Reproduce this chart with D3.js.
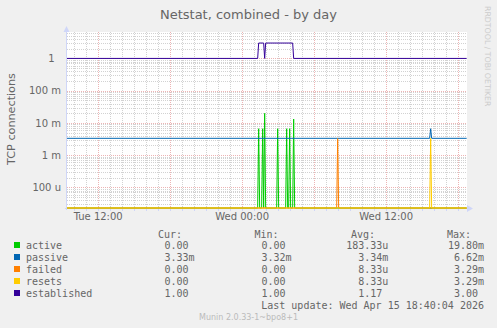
<!DOCTYPE html>
<html>
<head>
<meta charset="utf-8">
<script src="https://cdn.jsdelivr.net/npm/d3@7"></script>
<style>
  html, body { margin: 0; padding: 0; background: #F0F0F0; }
  svg text { white-space: pre; }
</style>
</head>
<body>
<svg id="chart" width="497" height="328"></svg>
<script>
// chart data (5 minute samples, zeros shown where the series sits on the floor)
var title = "Netstat, combined - by day";
var yLabel = "TCP connections";
var timeStart = "2026-04-14 09:26:40";
var timeEnd = "2026-04-15 18:46:40";
var yMin = 2.3e-5;
var yMax = 6.6;
var yTicks = [1e-4, 1e-3, 1e-2, 1e-1, 1];
var yTickLabels = ["100 u", "1 m", "10 m", "100 m", "1\u2007"];
var xTickFormat = "%a %H:%M";

var seriesNames = ["active", "passive", "failed", "resets", "established"];
var seriesColors = ["#00CC00", "#0066B3", "#FF8000", "#FFCC00", "#330099"];

var active = [
  ["2026-04-14 09:25", 0], ["2026-04-15 01:20", 0], ["2026-04-15 01:25", 6.6e-3],
  ["2026-04-15 01:30", 0], ["2026-04-15 01:40", 0], ["2026-04-15 01:45", 6.6e-3],
  ["2026-04-15 01:50", 0], ["2026-04-15 01:55", 19.8e-3], ["2026-04-15 02:00", 0],
  ["2026-04-15 02:55", 0], ["2026-04-15 03:00", 6.6e-3], ["2026-04-15 03:05", 0],
  ["2026-04-15 03:40", 0], ["2026-04-15 03:45", 6.6e-3], ["2026-04-15 03:50", 0],
  ["2026-04-15 03:55", 0], ["2026-04-15 04:00", 6.6e-3], ["2026-04-15 04:05", 0],
  ["2026-04-15 04:15", 0], ["2026-04-15 04:20", 13.2e-3], ["2026-04-15 04:25", 0],
  ["2026-04-15 18:45", 0]
];
var passive = [
  ["2026-04-14 09:25", 3.33e-3], ["2026-04-15 15:40", 3.33e-3], ["2026-04-15 15:45", 6.62e-3],
  ["2026-04-15 15:50", 3.33e-3], ["2026-04-15 18:45", 3.33e-3]
];
var failed = [
  ["2026-04-14 09:25", 0], ["2026-04-15 07:55", 0], ["2026-04-15 08:00", 3.29e-3],
  ["2026-04-15 08:05", 0], ["2026-04-15 18:45", 0]
];
var resets = [
  ["2026-04-14 09:25", 0], ["2026-04-15 15:40", 0], ["2026-04-15 15:45", 3.29e-3],
  ["2026-04-15 15:50", 0], ["2026-04-15 18:45", 0]
];
var established = [
  ["2026-04-14 09:25", 1], ["2026-04-15 01:20", 1], ["2026-04-15 01:25", 3],
  ["2026-04-15 01:50", 3], ["2026-04-15 01:55", 1], ["2026-04-15 02:00", 3],
  ["2026-04-15 04:15", 3], ["2026-04-15 04:20", 1], ["2026-04-15 18:45", 1]
];

var legendCur = ["0.00 ", "3.33m", "0.00 ", "0.00 ", "1.00 "];
var legendMin = ["0.00 ", "3.32m", "0.00 ", "0.00 ", "1.00 "];
var legendAvg = ["183.33u", "3.34m", "8.33u", "8.33u", "1.17 "];
var legendMax = ["19.80m", "6.62m", "3.29m", "3.29m", "3.00 "];
var lastUpdate = "Last update: Wed Apr 15 18:40:04 2026";
var footer = "Munin 2.0.33-1~bpo8+1";
var sideText = "RRDTOOL / TOBI OETIKER";

var seriesData = [active, passive, failed, resets, established];

// layout
var plotLeft = 67, plotRight = 467, plotTop = 32, plotBottom = 208;
var font = "DejaVu Sans";
var mono = "DejaVu Sans Mono";
var textColor = "#666666";
var axisColor = "#CFD6F8";
var minorGrid = "#D2D2D2";
var majorGrid = "#EDB4B4";

var svg = d3.select("#chart");
var parseSec = d3.utcParse("%Y-%m-%d %H:%M:%S");
var parseMin = d3.utcParse("%Y-%m-%d %H:%M");

var x = d3.scaleUtc()
  .domain([parseSec(timeStart), parseSec(timeEnd)])
  .range([plotLeft, plotRight]);
var y = d3.scaleLog()
  .domain([yMin, yMax])
  .range([plotBottom, plotTop]);

svg.append("rect").attr("width", 497).attr("height", 328).attr("fill", "#F0F0F0");
svg.append("rect")
  .attr("x", plotLeft).attr("y", plotTop)
  .attr("width", plotRight - plotLeft).attr("height", plotBottom - plotTop)
  .attr("fill", "#FFFFFF");

// grid
var grid = svg.append("g").attr("shape-rendering", "crispEdges");
var hours = d3.utcHour.range(x.domain()[0], x.domain()[1]);
hours.forEach(function(h) {
  var px = Math.round(x(h)) + 0.5;
  var major = h.getUTCHours() % 6 === 0;
  grid.append("line")
    .attr("x1", px).attr("x2", px)
    .attr("y1", plotTop).attr("y2", plotBottom)
    .attr("stroke", major ? majorGrid : minorGrid)
    .attr("stroke-dasharray", "1,1");
});
for (var k = -5; k <= 0; k++) {
  for (var m = 1; m <= 9; m++) {
    var v = m * Math.pow(10, k);
    if (v < yMin || v > yMax) continue;
    var py = Math.round(y(v)) + 0.5;
    grid.append("line")
      .attr("x1", plotLeft).attr("x2", plotRight)
      .attr("y1", py).attr("y2", py)
      .attr("stroke", m === 1 ? majorGrid : minorGrid)
      .attr("stroke-dasharray", "1,1");
  }
}

// axes
var axes = svg.append("g").attr("shape-rendering", "crispEdges");
axes.append("line")
  .attr("x1", plotLeft - 0.5).attr("x2", plotLeft - 0.5)
  .attr("y1", plotBottom + 2).attr("y2", plotTop - 2)
  .attr("stroke", axisColor);
axes.append("line")
  .attr("x1", plotLeft - 2).attr("x2", plotRight + 2)
  .attr("y1", plotBottom + 0.5).attr("y2", plotBottom + 0.5)
  .attr("stroke", axisColor);
hours.forEach(function(h) {
  var px = Math.round(x(h)) + 0.5;
  axes.append("line")
    .attr("x1", px).attr("x2", px)
    .attr("y1", plotBottom - 1).attr("y2", plotBottom + 3)
    .attr("stroke", axisColor);
});
svg.append("path")
  .attr("d", "M63.5,32L69.5,32L66.5,26Z")
  .attr("fill", axisColor);
svg.append("path")
  .attr("d", "M467,205L467,212L473,208.5Z")
  .attr("fill", axisColor);

// series lines
svg.append("clipPath").attr("id", "plotclip")
  .append("rect")
  .attr("x", plotLeft).attr("y", plotTop - 1)
  .attr("width", plotRight - plotLeft).attr("height", plotBottom - plotTop + 2);

var line = d3.line()
  .x(function(d) { return x(parseMin(d[0])); })
  .y(function(d) { return y(Math.max(d[1], yMin)); });

var lines = svg.append("g").attr("clip-path", "url(#plotclip)");
seriesData.forEach(function(s, i) {
  lines.append("path")
    .datum(s)
    .attr("d", line)
    .attr("fill", "none")
    .attr("stroke", seriesColors[i])
    .attr("stroke-width", 1);
});

// tick labels
yTicks.forEach(function(t, i) {
  svg.append("text")
    .attr("x", 61).attr("y", y(t) + 3.6)
    .attr("text-anchor", "end")
    .attr("font-family", font).attr("font-size", 10)
    .attr("fill", textColor)
    .text(yTickLabels[i]);
});
var fmt = d3.utcFormat(xTickFormat);
d3.utcHour.every(12).range(x.domain()[0], x.domain()[1]).forEach(function(t) {
  svg.append("text")
    .attr("x", x(t) + 0.5).attr("y", 220)
    .attr("text-anchor", "middle")
    .attr("font-family", font).attr("font-size", 10)
    .attr("fill", textColor)
    .text(fmt(t));
});

// titles
svg.append("text")
  .attr("x", 248.5).attr("y", 18.5)
  .attr("text-anchor", "middle")
  .attr("font-family", font).attr("font-size", 13)
  .attr("fill", textColor)
  .text(title);
svg.append("text")
  .attr("transform", "translate(14.5,119) rotate(-90)")
  .attr("text-anchor", "middle")
  .attr("font-family", font).attr("font-size", 11.2)
  .attr("fill", textColor)
  .text(yLabel);
svg.append("text")
  .attr("transform", "translate(485,6) rotate(90)")
  .attr("font-family", font).attr("font-size", 7.8)
  .attr("fill", "#CCCCCC")
  .text(sideText);

// legend
var legend = svg.append("g")
  .attr("font-family", mono).attr("font-size", 10)
  .attr("fill", textColor);
[["Cur:", 158], ["Min:", 254.5], ["Avg:", 351], ["Max:", 447]].forEach(function(h) {
  legend.append("text").attr("x", h[1]).attr("y", 237.5).text(h[0]);
});
seriesNames.forEach(function(name, i) {
  var by = 249 + i * 12;
  legend.append("rect")
    .attr("x", 14).attr("y", by - 7)
    .attr("width", 6).attr("height", 6)
    .attr("fill", seriesColors[i]);
  legend.append("text").attr("x", 26).attr("y", by).text(name);
  legend.append("text").attr("x", 194.5).attr("y", by).attr("text-anchor", "end").text(legendCur[i]);
  legend.append("text").attr("x", 291.5).attr("y", by).attr("text-anchor", "end").text(legendMin[i]);
  legend.append("text").attr("x", 388.3).attr("y", by).attr("text-anchor", "end").text(legendAvg[i]);
  legend.append("text").attr("x", 484).attr("y", by).attr("text-anchor", "end").text(legendMax[i]);
});
legend.append("text")
  .attr("x", 484).attr("y", 309)
  .attr("text-anchor", "end")
  .text(lastUpdate);

svg.append("text")
  .attr("x", 248.5).attr("y", 319.5)
  .attr("text-anchor", "middle")
  .attr("font-family", font).attr("font-size", 8)
  .attr("fill", "#BBBBBB")
  .text(footer);
</script>
</body>
</html>
